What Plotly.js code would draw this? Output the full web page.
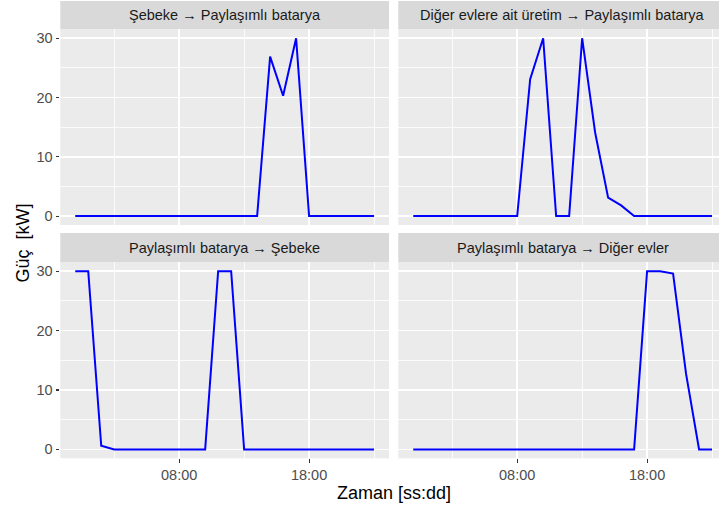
<!DOCTYPE html>
<html>
<head>
<meta charset="utf-8">
<script src="https://cdn.plot.ly/plotly-3.0.1.min.js"></script>
<style>
html, body { margin: 0; padding: 0; overflow: hidden; background: #fff; }
#chart { width: 728px; height: 508px; }
</style>
</head>
<body>
<div id="chart"></div>
<script>
// ---- data ----
const times = ['00:00','01:00','02:00','03:00','04:00','05:00','06:00','07:00',
               '08:00','09:00','10:00','11:00','12:00','13:00','14:00','15:00',
               '16:00','17:00','18:00','19:00','20:00','21:00','22:00','23:00'];

const panelTitles = [
  'Şebeke → Paylaşımlı batarya',
  'Diğer evlere ait üretim → Paylaşımlı batarya',
  'Paylaşımlı batarya → Şebeke',
  'Paylaşımlı batarya → Diğer evler'
];

const gridToBattery   = [0,0,0,0,0,0,0,0,0,0,0,0,0,0,0,26.9,20.3,30,0,0,0,0,0,0];
const othersToBattery = [0,0,0,0,0,0,0,0,0,23.1,30,0,0,30,14.1,3.1,1.8,0,0,0,0,0,0,0];
const batteryToGrid   = [30,30,0.6,0,0,0,0,0,0,0,0,30,30,0,0,0,0,0,0,0,0,0,0,0];
const batteryToOthers = [0,0,0,0,0,0,0,0,0,0,0,0,0,0,0,0,0,0,30,30,29.6,12.7,0,0];

const xTickLabels = ['08:00','18:00'];
const xMinorTicks = ['03:00','13:00','23:00'];
const yTicks = [0,10,20,30];
const yMinorTicks = [5,15,25];

const yTitle = 'Güç  [kW]';
const xTitle = 'Zaman [ss:dd]';

// ---- build ----
const day = '2021-01-01';
const toDate = t => day + ' ' + t;
const xs = times.map(toDate);
const toMs = s => new Date(s.replace(' ', 'T') + ':00Z').getTime();
const msToStr = ms => new Date(ms).toISOString().replace('T', ' ').replace('Z', '');
const t0 = toMs(xs[0]), t1 = toMs(xs[xs.length - 1]);
const pad = (t1 - t0) * 0.05;
const xRange = [msToStr(t0 - pad), msToStr(t1 + pad)];
const yRange = [-1.5, 31.5];

const series = [gridToBattery, othersToBattery, batteryToGrid, batteryToOthers];
const traces = series.map((ys, i) => ({
  x: xs, y: ys, type: 'scatter', mode: 'lines',
  line: { color: '#0000FF', width: 2 },
  xaxis: i === 0 ? 'x' : 'x' + (i + 1),
  yaxis: i === 0 ? 'y' : 'y' + (i + 1),
  showlegend: false, hoverinfo: 'skip'
}));

const W = 728, H = 508;
const px = v => v / W;
const py = v => (H - v) / H;
const xDomL = [px(60.3), px(389)];
const xDomR = [px(398.3), px(727)];
const yDomT = [py(225), py(29.3)];
const yDomB = [py(458.3), py(262.3)];

const tickFont = { family: 'Liberation Sans, Arial, sans-serif', size: 14.5, color: '#4D4D4D' };

function xAxis(domain, anchor, showLabels) {
  return {
    type: 'date', domain: domain, anchor: anchor, range: xRange,
    tickmode: 'array', tickvals: xTickLabels.map(toDate), ticktext: xTickLabels,
    showticklabels: showLabels, ticks: showLabels ? 'outside' : '',
    ticklen: 3.7, tickwidth: 1.1, tickcolor: '#333333', tickfont: tickFont,
    showgrid: true, gridcolor: '#FFFFFF', gridwidth: 1.6,
    minor: { tickmode: 'array', tickvals: xMinorTicks.map(toDate), showgrid: true,
             gridcolor: '#FFFFFF', gridwidth: 0.8, ticks: '' },
    zeroline: false, showline: false, fixedrange: true
  };
}
function yAxis(domain, anchor, showLabels) {
  return {
    domain: domain, anchor: anchor, range: yRange,
    tickmode: 'array', tickvals: yTicks,
    showticklabels: showLabels, ticks: showLabels ? 'outside' : '',
    ticklen: 3.7, tickwidth: 1.1, tickcolor: '#333333', tickfont: tickFont,
    showgrid: true, gridcolor: '#FFFFFF', gridwidth: 1.6,
    minor: { tickmode: 'array', tickvals: yMinorTicks, showgrid: true,
             gridcolor: '#FFFFFF', gridwidth: 0.8, ticks: '' },
    zeroline: false, showline: false, fixedrange: true
  };
}

const stripT = [py(29.3), py(1)];
const stripB = [py(262.3), py(233)];
const strips = [
  [xDomL, stripT], [xDomR, stripT], [xDomL, stripB], [xDomR, stripB]
];

const shapes = strips.map(([xd, yd]) => ({
  type: 'rect', xref: 'paper', yref: 'paper',
  x0: xd[0], x1: xd[1], y0: yd[0], y1: yd[1],
  fillcolor: '#D9D9D9', line: { width: 0 }, layer: 'below'
}));

const annotations = strips.map(([xd, yd], i) => ({
  xref: 'paper', yref: 'paper', x: (xd[0] + xd[1]) / 2, y: (yd[0] + yd[1]) / 2,
  xanchor: 'center', yanchor: 'middle', showarrow: false,
  text: panelTitles[i],
  font: { family: 'Liberation Sans, Arial, sans-serif', size: 14.5, color: '#1A1A1A' }
}));
annotations.push({
  xref: 'paper', yref: 'paper', x: px(23), y: py(243.6),
  xanchor: 'center', yanchor: 'middle', showarrow: false, textangle: -90,
  text: yTitle, font: { family: 'Liberation Sans, Arial, sans-serif', size: 18, color: '#000000' }
});
annotations.push({
  xref: 'paper', yref: 'paper', x: (xDomL[0] + xDomR[1]) / 2, y: py(493),
  xanchor: 'center', yanchor: 'middle', showarrow: false,
  text: xTitle, font: { family: 'Liberation Sans, Arial, sans-serif', size: 18, color: '#000000' }
});

const layout = {
  width: W, height: H,
  margin: { l: 0, r: 0, t: 0, b: 0, pad: 0 },
  paper_bgcolor: '#FFFFFF', plot_bgcolor: '#EBEBEB',
  showlegend: false,
  xaxis:  xAxis(xDomL, 'y',  false),
  xaxis2: xAxis(xDomR, 'y2', false),
  xaxis3: xAxis(xDomL, 'y3', true),
  xaxis4: xAxis(xDomR, 'y4', true),
  yaxis:  yAxis(yDomT, 'x',  true),
  yaxis2: yAxis(yDomT, 'x2', false),
  yaxis3: yAxis(yDomB, 'x3', true),
  yaxis4: yAxis(yDomB, 'x4', false),
  shapes: shapes,
  annotations: annotations
};

Plotly.newPlot('chart', traces, layout, { displayModeBar: false, staticPlot: true });
</script>
</body>
</html>
